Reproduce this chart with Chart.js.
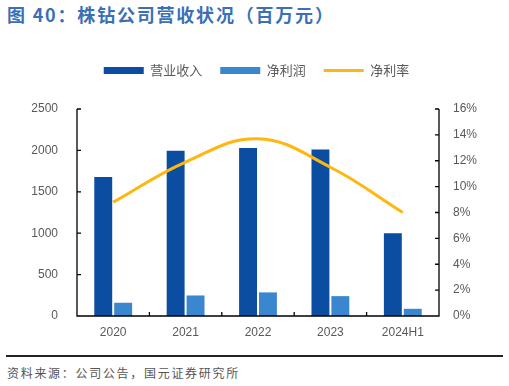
<!DOCTYPE html>
<html>
<head>
<meta charset="utf-8">
<script src="https://cdn.jsdelivr.net/npm/chart.js@4/dist/chart.umd.min.js"></script>
<style>
  html, body { margin: 0; padding: 0; background: #fff; }
  body { width: 509px; height: 386px; position: relative; overflow: hidden; font-family: "Liberation Sans", Arial, sans-serif; }
  #title { position: absolute; left: 7px; top: 1px; font-family: "Noto Sans CJK SC", sans-serif; font-weight: bold; font-size: 18px; color: #3B6FB6; letter-spacing: 1.8px; white-space: nowrap; }
  #wrap { position: absolute; left: 0; top: 30px; width: 509px; height: 320px; }
  #rule { position: absolute; left: 6px; top: 355px; width: 497px; height: 2px; background: #222; }
  #source { position: absolute; left: 7px; top: 364px; font-family: "Noto Sans CJK SC", sans-serif; font-size: 12px; color: #555; letter-spacing: 1.7px; white-space: nowrap; }
</style>
</head>
<body>
<div id="title">图 40：株钻公司营收状况（百万元）</div>
<div id="wrap"><canvas id="c"></canvas></div>
<div id="rule"></div>
<div id="source">资料来源：公司公告，国元证券研究所</div>
<script>
const categories = ['2020', '2021', '2022', '2023', '2024H1'];
const revenue = [1680, 1995, 2030, 2010, 1000];
const netProfit = [160, 248, 285, 240, 87];
const netMargin = [8.8, 11.9, 13.7, 11.5, 8.0];
const leftTicks = [0, 500, 1000, 1500, 2000, 2500];
const rightTicks = [0, 2, 4, 6, 8, 10, 12, 14, 16];

const inwardTicks = {
  id: 'inwardTicks',
  afterDraw(chart) {
    const ctx = chart.ctx;
    const a = chart.chartArea;
    const y = chart.scales.y, y1 = chart.scales.y1, x = chart.scales.x;
    ctx.save();
    ctx.strokeStyle = '#000';
    ctx.lineWidth = 1.3;
    ctx.beginPath();
    ctx.moveTo(a.left, a.top); ctx.lineTo(a.left, a.bottom);
    ctx.lineTo(a.right, a.bottom); ctx.lineTo(a.right, a.top);
    leftTicks.forEach(v => { const p = y.getPixelForValue(v); ctx.moveTo(a.left, p); ctx.lineTo(a.left + 4, p); });
    rightTicks.forEach(v => { const p = y1.getPixelForValue(v); ctx.moveTo(a.right, p); ctx.lineTo(a.right - 4, p); });
    for (let i = 1; i < categories.length; i++) {
      const p = (x.getPixelForValue(i - 1) + x.getPixelForValue(i)) / 2;
      ctx.moveTo(p, a.bottom); ctx.lineTo(p, a.bottom - 4);
    }
    ctx.stroke();
    ctx.restore();
  }
};

const legendSpace = {
  id: 'legendSpace',
  beforeInit(chart) {
    const fit = chart.legend.fit;
    chart.legend.fit = function () { fit.call(this); this.height = 63; };
  }
};

new Chart(document.getElementById('c'), {
  data: {
    labels: categories,
    datasets: [
      { type: 'bar', label: '营业收入', data: revenue, backgroundColor: '#0B4DA0', yAxisID: 'y',
        categoryPercentage: 0.55, barPercentage: 0.9, order: 2 },
      { type: 'bar', label: '净利润', data: netProfit, backgroundColor: '#3A87D0', yAxisID: 'y',
        categoryPercentage: 0.55, barPercentage: 0.9, order: 2 },
      { type: 'line', label: '净利率', data: netMargin, borderColor: '#FFB70F', backgroundColor: '#FFB70F',
        borderWidth: 3, pointRadius: 0, tension: 0.4, yAxisID: 'y1', order: 1 }
    ]
  },
  options: {
    responsive: true,
    maintainAspectRatio: false,
    animation: false,
    layout: { padding: { left: 4, right: 0, top: 16, bottom: 0 } },
    plugins: {
      tooltip: { enabled: false },
      legend: {
        position: 'top',
        labels: {
          usePointStyle: true,
          pointStyleWidth: 40,
          boxWidth: 40,
          boxHeight: 7,
          padding: 18,
          color: '#595959',
          font: { family: '"Noto Sans CJK SC", sans-serif', size: 13 },
          generateLabels(chart) {
            const items = Chart.defaults.plugins.legend.labels.generateLabels(chart);
            items.sort((a, b) => a.datasetIndex - b.datasetIndex);
            items.forEach(it => {
              if (it.datasetIndex === 2) { it.pointStyle = 'line'; it.lineWidth = 3; it.strokeStyle = '#FFB70F'; }
              else { it.pointStyle = 'rect'; it.lineWidth = 0; }
            });
            return items;
          }
        }
      }
    },
    scales: {
      x: {
        grid: { display: false, drawTicks: false },
        border: { display: false },
        afterFit(s) { s.height = 34; },
        ticks: { color: '#595959', font: { family: '"Liberation Sans", Arial', size: 12 }, padding: 9 }
      },
      y: {
        position: 'left', min: 0, max: 2500,
        afterBuildTicks(s) { s.ticks = leftTicks.map(v => ({ value: v })); },
        afterFit(s) { s.width = 73; },
        grid: { display: false, drawTicks: false },
        border: { display: false },
        ticks: { color: '#595959', font: { family: '"Liberation Sans", Arial', size: 12 }, padding: 19,
          callback: v => String(v) }
      },
      y1: {
        position: 'right', min: 0, max: 16,
        afterBuildTicks(s) { s.ticks = rightTicks.map(v => ({ value: v })); },
        afterFit(s) { s.width = 70; },
        grid: { display: false, drawTicks: false },
        border: { display: false },
        ticks: { color: '#595959', font: { family: '"Liberation Sans", Arial', size: 12 }, padding: 14,
          callback: v => v + '%' }
      }
    }
  },
  plugins: [inwardTicks, legendSpace]
});
</script>
</body>
</html>
